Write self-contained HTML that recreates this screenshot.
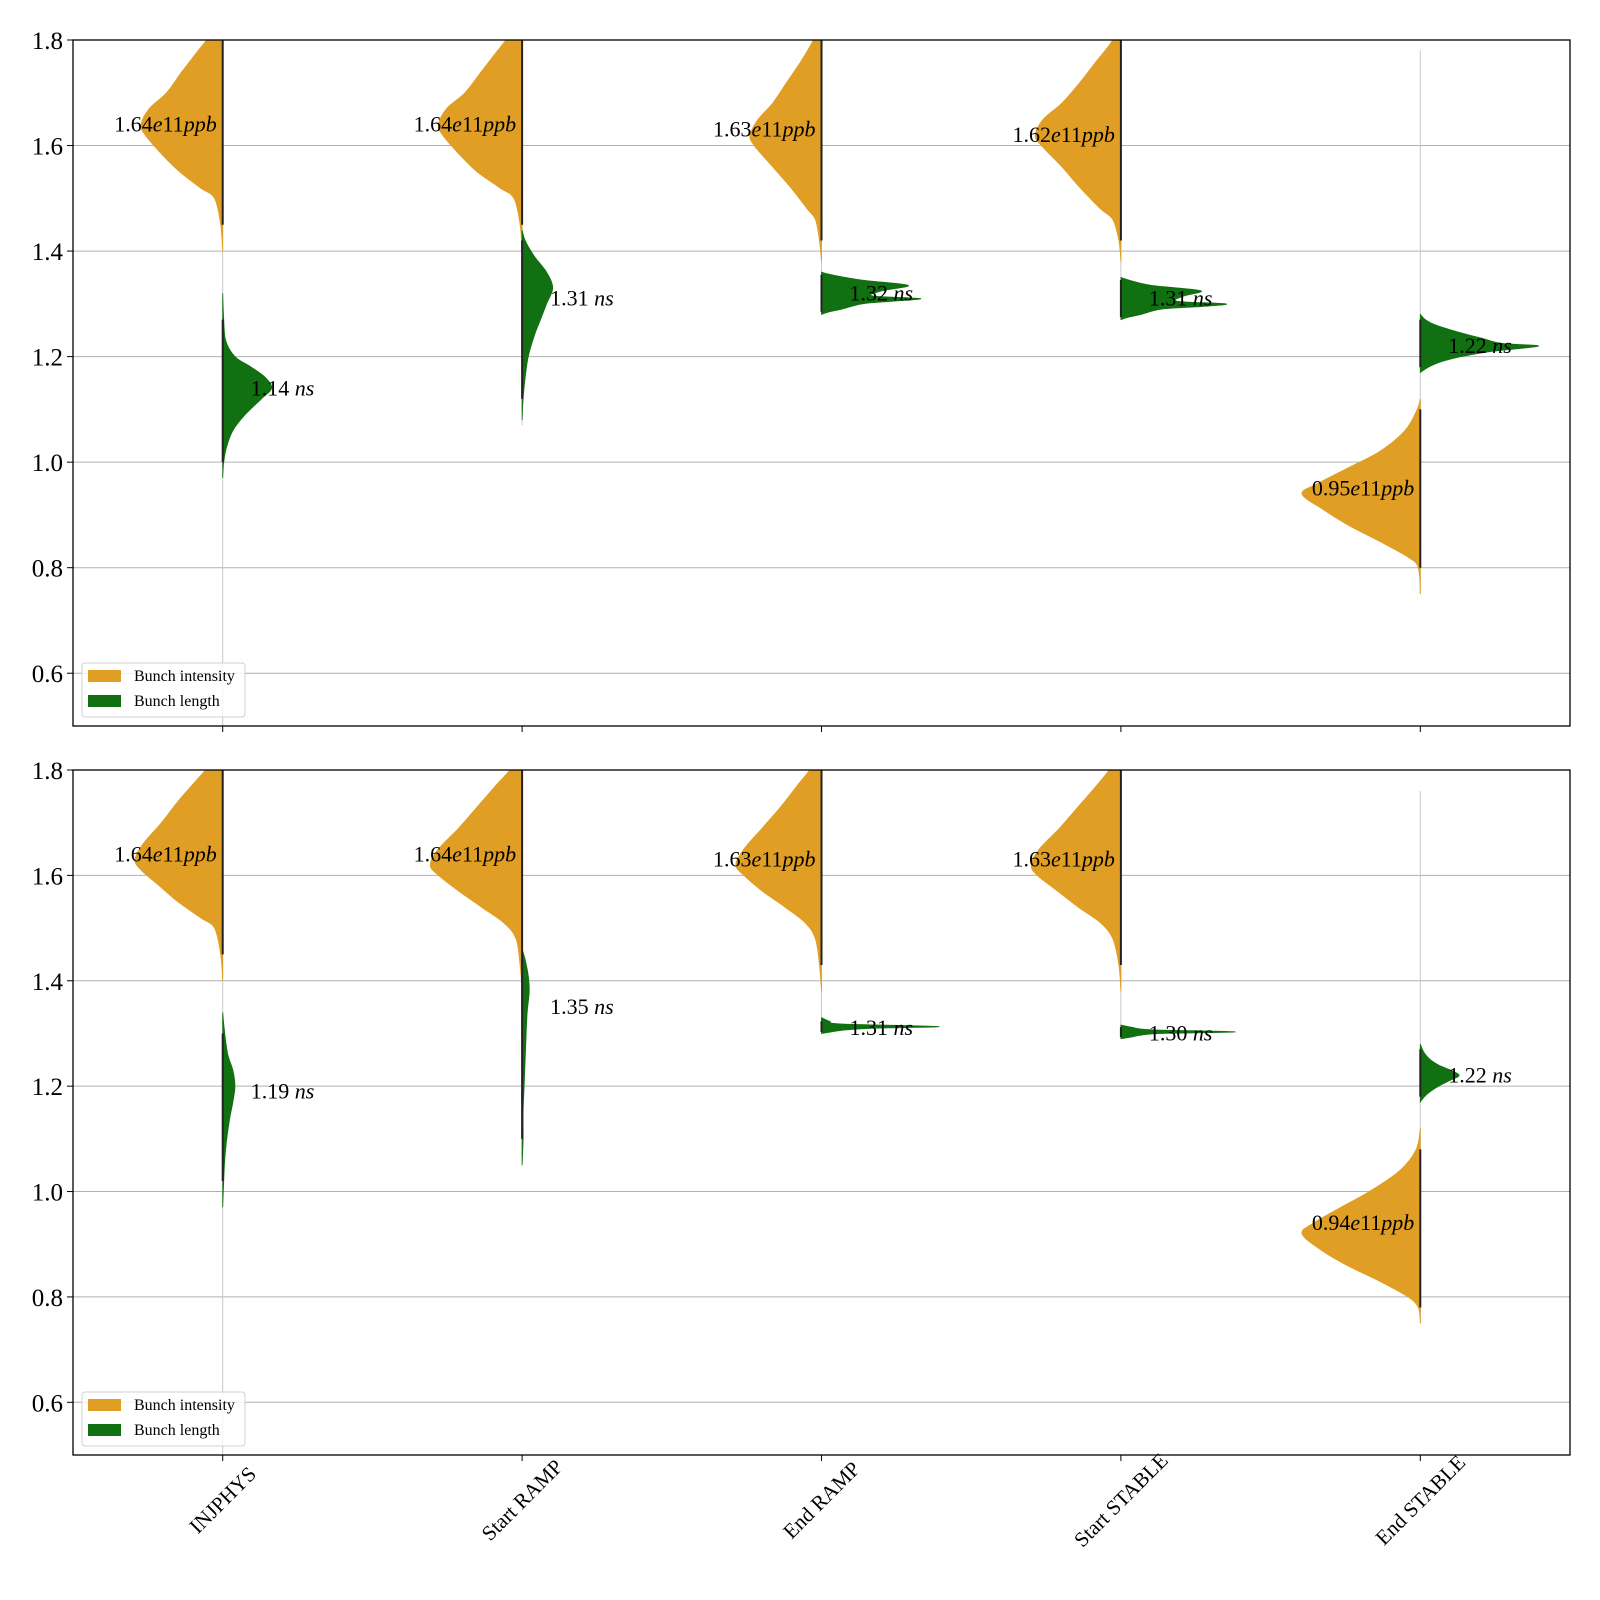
<!DOCTYPE html>
<html><head><meta charset="utf-8"><style>
html,body{margin:0;padding:0;background:#fff;}
svg{display:block;font-family:"Liberation Serif",serif;}
</style></head><body>
<svg id="chart" width="1600" height="1600" viewBox="0 0 1600 1600" xmlns="http://www.w3.org/2000/svg"></svg>
<script>
const categories = ["INJPHYS","Start RAMP","End RAMP","Start STABLE","End STABLE"];
const yTicks = [0.6,0.8,1.0,1.2,1.4,1.6,1.8];
const yTickLabels = ["0.6","0.8","1.0","1.2","1.4","1.6","1.8"];

const topIntMedian = ["1.64","1.64","1.63","1.62","0.95"];
const topLenMedian = ["1.14","1.31","1.32","1.31","1.22"];
const botIntMedian = ["1.64","1.64","1.63","1.63","0.94"];
const botLenMedian = ["1.19","1.35","1.31","1.30","1.22"];

const topIntY = [
 [1.40,1.45,1.50,1.52,1.55,1.58,1.62,1.64,1.67,1.70,1.74,1.78,1.82,1.85],
 [1.40,1.45,1.50,1.52,1.55,1.58,1.62,1.64,1.67,1.70,1.74,1.78,1.82,1.85],
 [1.38,1.42,1.46,1.48,1.52,1.56,1.60,1.62,1.65,1.68,1.72,1.76,1.80,1.84],
 [1.38,1.42,1.46,1.48,1.52,1.56,1.60,1.62,1.65,1.68,1.72,1.76,1.80,1.84],
 [0.75,0.80,0.82,0.85,0.88,0.91,0.94,0.96,0.99,1.02,1.06,1.10,1.12]];
const topIntD = [
 [0,2,8,22,42,58,76,80,72,55,40,24,8,0],
 [0,2,8,22,44,60,78,82,74,56,40,24,8,0],
 [0,2,6,14,30,48,66,70,62,48,34,20,8,0],
 [0,2,8,20,40,58,78,84,76,58,40,24,8,0],
 [0,2,12,40,70,95,116,100,70,40,15,3,0]];
const topLenY = [
 [0.97,1.00,1.03,1.06,1.09,1.12,1.14,1.16,1.18,1.20,1.23,1.27,1.32],
 [1.08,1.12,1.16,1.20,1.24,1.27,1.30,1.33,1.36,1.39,1.42,1.44],
 [1.28,1.285,1.29,1.30,1.305,1.31,1.315,1.325,1.335,1.345,1.355,1.36],
 [1.27,1.275,1.28,1.29,1.295,1.30,1.305,1.315,1.325,1.335,1.345,1.35],
 [1.17,1.18,1.19,1.20,1.21,1.22,1.225,1.235,1.245,1.26,1.27,1.28]];
const topLenD = [
 [0,1,4,10,22,38,48,42,28,12,3,1,0],
 [0,1,3,6,12,18,24,30,24,12,3,0],
 [0,8,20,40,70,97,50,60,85,40,10,0],
 [0,8,20,40,80,103,55,62,78,30,8,0],
 [0,8,20,40,70,116,80,60,40,15,5,0]];
const botIntY = [
 [1.40,1.45,1.50,1.52,1.55,1.58,1.61,1.63,1.66,1.70,1.74,1.78,1.82,1.85],
 [1.38,1.43,1.48,1.51,1.54,1.57,1.60,1.62,1.65,1.69,1.73,1.77,1.81,1.85],
 [1.38,1.43,1.48,1.51,1.54,1.57,1.60,1.62,1.65,1.69,1.73,1.77,1.81,1.85],
 [1.38,1.43,1.48,1.51,1.54,1.57,1.60,1.62,1.65,1.69,1.73,1.77,1.81,1.85],
 [0.75,0.78,0.80,0.83,0.86,0.89,0.92,0.94,0.97,1.00,1.04,1.08,1.12]];
const botIntD = [
 [0,2,8,22,44,62,80,86,78,60,44,26,8,0],
 [0,2,6,18,40,62,82,90,82,62,44,26,8,0],
 [0,2,6,16,36,58,76,84,76,58,40,24,8,0],
 [0,2,8,20,42,62,82,88,80,60,42,24,8,0],
 [0,2,12,40,72,98,116,105,78,50,20,4,0]];
const botLenY = [
 [0.97,1.02,1.06,1.10,1.14,1.17,1.20,1.23,1.26,1.30,1.34],
 [1.05,1.10,1.15,1.20,1.25,1.30,1.34,1.38,1.41,1.44,1.46],
 [1.30,1.303,1.306,1.31,1.313,1.318,1.323,1.33],
 [1.29,1.293,1.297,1.30,1.303,1.307,1.312,1.316],
 [1.17,1.18,1.19,1.20,1.21,1.22,1.23,1.24,1.25,1.26,1.27,1.28]];
const botLenD = [
 [0,1,2,4,7,10,12,10,5,2,0],
 [0,1,1,2,3,4,5,7,6,3,0],
 [0,10,20,50,115,20,8,0],
 [0,10,20,40,112,30,10,0],
 [0,4,10,18,28,38,30,18,10,5,2,0]];
const topStem = [[0.5,1.8],[1.07,1.8],[1.28,1.8],[1.27,1.8],[0.75,1.78]];
const botStem = [[0.5,1.8],[1.05,1.8],[1.30,1.8],[1.29,1.8],[0.75,1.76]];

const NS="http://www.w3.org/2000/svg";
const svg=document.getElementById('chart');
function mk(tag,attrs,parent){const e=document.createElementNS(NS,tag);for(const k in attrs)e.setAttribute(k,attrs[k]);(parent||svg).appendChild(e);return e;}
const X0=73,X1=1570,YMIN=0.5,YMAX=1.8,DS=1.02;
function xCat(i){return X0+(i+0.5)*(X1-X0)/categories.length;}
function smooth(pts){
  let d='M'+pts[0][0]+','+pts[0][1];
  for(let i=0;i<pts.length-1;i++){
    const p0=pts[Math.max(0,i-1)],p1=pts[i],p2=pts[i+1],p3=pts[Math.min(pts.length-1,i+2)];
    const c1x=p1[0]+(p2[0]-p0[0])/6,c1y=p1[1]+(p2[1]-p0[1])/6;
    const c2x=p2[0]-(p3[0]-p1[0])/6,c2y=p2[1]-(p3[1]-p1[1])/6;
    d+=' C'+c1x+','+c1y+' '+c2x+','+c2y+' '+p2[0]+','+p2[1];
  }
  return d;
}

function panel(top,bottom,intY,intD,lenY,lenD,intMed,lenMed,stem,name,showX){
  const g=mk('g',{});
  
  
  const yS=v=>bottom-(v-YMIN)/(YMAX-YMIN)*(bottom-top);
  const clipId='clip-'+name;
  const cp=mk('clipPath',{id:clipId},g);mk('rect',{x:X0,y:top,width:X1-X0,height:bottom-top},cp);
  yTicks.forEach((t,k)=>{
    const gl=mk('line',{x1:X0,x2:X1,y1:yS(t),y2:yS(t),stroke:'#b0b0b0','stroke-width':1},g);
    
    
    mk('line',{x1:X0-6,x2:X0,y1:yS(t),y2:yS(t),stroke:'#000','stroke-width':1},g);
    const tl=mk('text',{x:X0-10,y:yS(t)+9,'text-anchor':'end','font-size':25},g);
    tl.textContent=yTickLabels[k];
    
    
  });
  const pg=mk('g',{'clip-path':'url(#'+clipId+')'},g);
  categories.forEach((c,i)=>{
    const cx=xCat(i);
    const st=mk('line',{x1:cx,x2:cx,y1:yS(stem[i][0]),y2:yS(stem[i][1]),stroke:'#c8c8c8','stroke-width':1},pg);
    
    
    const pts1=intY[i].map((v,j)=>[cx-intD[i][j]*DS,yS(v)]);
    const p1=mk('path',{d:smooth(pts1)+' Z',fill:'#e09e24',stroke:'#e09e24','stroke-width':0.8},pg);
    
    
    const pts2=lenY[i].map((v,j)=>[cx+lenD[i][j]*DS,yS(v)]);
    const p2=mk('path',{d:smooth(pts2)+' Z',fill:'#117011',stroke:'#117011','stroke-width':0.8},pg);
    
    
    const n1=intY[i].length;
    const s1=mk('line',{x1:cx,x2:cx,y1:yS(intY[i][1]),y2:yS(intY[i][n1-2]),stroke:'#222','stroke-width':2},pg);
    
    
    const n2=lenY[i].length;
    const s2=mk('line',{x1:cx,x2:cx,y1:yS(lenY[i][1]),y2:yS(lenY[i][n2-2]),stroke:'#222','stroke-width':2},pg);
    
    
    const t1=mk('text',{x:cx-6,y:yS(parseFloat(intMed[i]))+7,'text-anchor':'end','font-size':22},g);
    t1.innerHTML=intMed[i]+'<tspan font-style="italic">e</tspan>11<tspan font-style="italic">ppb</tspan>';
    
    
    const t2=mk('text',{x:cx+28,y:yS(parseFloat(lenMed[i]))+7,'text-anchor':'start','font-size':22},g);
    t2.innerHTML=lenMed[i]+' <tspan font-style="italic">ns</tspan>';
    
    
    mk('line',{x1:cx,x2:cx,y1:bottom,y2:bottom+6,stroke:'#000','stroke-width':1},g);
    if(showX){
      const xl=mk('text',{x:cx,y:bottom+52,'text-anchor':'middle','font-size':21,transform:'rotate(-45 '+cx+' '+(bottom+45)+')'},g);
      xl.textContent=c;
      
      
    }
  });
  const fr=mk('rect',{x:X0,y:top,width:X1-X0,height:bottom-top,fill:'none',stroke:'#000','stroke-width':1.3},g);
  
  
  const lg=mk('g',{},g);
  
  
  const ly=bottom-63;
  mk('rect',{x:82,y:ly,width:163,height:54,rx:3,fill:'#fff','fill-opacity':0.8,stroke:'#d0d0d0','stroke-width':1},lg);
  const e1=mk('rect',{x:88,y:ly+7,width:33,height:12,fill:'#e09e24'},lg);
  
  
  const lt1=mk('text',{x:134,y:ly+18,'font-size':16},lg);lt1.textContent='Bunch intensity';
  
  
  const e2=mk('rect',{x:88,y:ly+32,width:33,height:12,fill:'#117011'},lg);
  
  
  const lt2=mk('text',{x:134,y:ly+43,'font-size':16},lg);lt2.textContent='Bunch length';
  
  
}
panel(40,726,topIntY,topIntD,topLenY,topLenD,topIntMedian,topLenMedian,topStem,'top-panel',false);
panel(770,1455,botIntY,botIntD,botLenY,botLenD,botIntMedian,botLenMedian,botStem,'bottom-panel',true);
</script>
</body></html>
